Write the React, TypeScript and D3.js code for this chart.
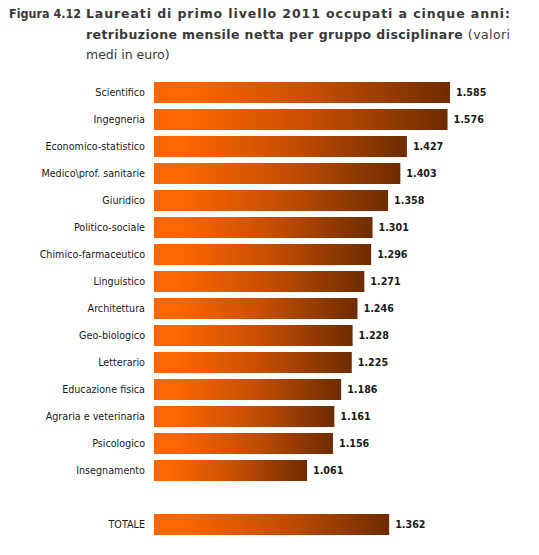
import React, { useEffect, useRef } from 'react';
import * as d3 from 'd3';

const categories = [
  'Scientifico',
  'Ingegneria',
  'Economico-statistico',
  'Medico\\prof. sanitarie',
  'Giuridico',
  'Politico-sociale',
  'Chimico-farmaceutico',
  'Linguistico',
  'Architettura',
  'Geo-biologico',
  'Letterario',
  'Educazione fisica',
  'Agraria e veterinaria',
  'Psicologico',
  'Insegnamento',
];
const values = [1585, 1576, 1427, 1403, 1358, 1301, 1296, 1271, 1246, 1228, 1225, 1186, 1161, 1156, 1061];
const totalLabel = 'TOTALE';
const totalValue = 1362;

const titleLines = [
  'Laureati di primo livello 2011 occupati a cinque anni:',
  'retribuzione mensile netta per gruppo disciplinare',
  'medi in euro)',
];

const W = 539;
const H = 555;

const itFormat = d3.formatLocale({
  decimal: ',',
  thousands: '.',
  grouping: [3],
  currency: ['', ' €'],
}).format(',d');

export default function App() {
  const svgRef = useRef<SVGSVGElement>(null);

  useEffect(() => {
    if (!svgRef.current) return;
    const svg = d3.select(svgRef.current);
    svg.selectAll('*').remove();

    const rows = categories.map((c, i) => ({ label: c, value: values[i] }));
    rows.push({ label: totalLabel, value: totalValue });

    const x = d3.scaleLinear().domain([500, 1585]).range([154, 450]);
    const y = d3
      .scaleBand<string>()
      .domain([...categories, '', totalLabel])
      .range([79, 79 + 17 * 27])
      .paddingInner(0.222)
      .paddingOuter(0.111);

    // gradient
    const defs = svg.append('defs');
    const grad = defs
      .append('linearGradient')
      .attr('id', 'barGrad')
      .attr('x1', '0%')
      .attr('x2', '100%')
      .attr('y1', '0%')
      .attr('y2', '0%');
    grad.append('stop').attr('offset', '0%').attr('stop-color', '#ff6600');
    grad.append('stop').attr('offset', '12%').attr('stop-color', '#fd6600');
    grad.append('stop').attr('offset', '55%').attr('stop-color', '#c44d02');
    grad.append('stop').attr('offset', '100%').attr('stop-color', '#6e2c00');

    // title
    const title = svg.append('g').attr('font-family', "'DejaVu Sans', sans-serif").attr('fill', '#383838');
    title
      .append('text')
      .attr('x', 9)
      .attr('y', 18)
      .attr('font-size', 12.5)
      .attr('font-weight', 'bold')
      .attr('textLength', 72)
      .attr('lengthAdjust', 'spacingAndGlyphs')
      .text('Figura 4.12');
    title
      .append('text')
      .attr('x', 86)
      .attr('y', 18)
      .attr('font-size', 12.5)
      .attr('font-weight', 'bold')
      .attr('textLength', 424)
      .attr('lengthAdjust', 'spacing')
      .text(titleLines[0]);
    const l2 = title
      .append('text')
      .attr('x', 86)
      .attr('y', 38.5)
      .attr('font-size', 12.5)
      .attr('textLength', 424)
      .attr('lengthAdjust', 'spacing');
    l2.append('tspan').attr('font-weight', 'bold').text(titleLines[1] + ' ');
    l2.append('tspan').text('(valori');
    title
      .append('text')
      .attr('x', 86)
      .attr('y', 58.5)
      .attr('font-size', 12.5)
      .text(titleLines[2]);

    const g = svg.append('g').attr('font-family', "'DejaVu Sans', sans-serif");

    g.selectAll('rect.bar')
      .data(rows)
      .join('rect')
      .attr('class', 'bar')
      .attr('x', x(500))
      .attr('y', d => y(d.label) as number)
      .attr('width', d => x(d.value) - x(500))
      .attr('height', y.bandwidth())
      .attr('fill', 'url(#barGrad)');

    g.selectAll('text.cat')
      .data(rows)
      .join('text')
      .attr('class', 'cat')
      .attr('x', 145)
      .attr('y', d => (y(d.label) as number) + y.bandwidth() / 2)
      .attr('dy', '0.35em')
      .attr('text-anchor', 'end')
      .attr('font-size', 9.6)
      .attr('fill', '#1a1a1a')
      .text(d => d.label);

    g.selectAll('text.val')
      .data(rows)
      .join('text')
      .attr('class', 'val')
      .attr('x', d => x(d.value) + 6)
      .attr('y', d => (y(d.label) as number) + y.bandwidth() / 2)
      .attr('dy', '0.35em')
      .attr('font-size', 9.6)
      .attr('font-weight', 'bold')
      .attr('fill', '#1a1a1a')
      .text(d => itFormat(d.value));
  }, []);

  return (
    <svg
      ref={svgRef}
      width={W}
      height={H}
      style={{ position: 'absolute', left: 0, top: 0, background: '#fff' }}
    />
  );
}
